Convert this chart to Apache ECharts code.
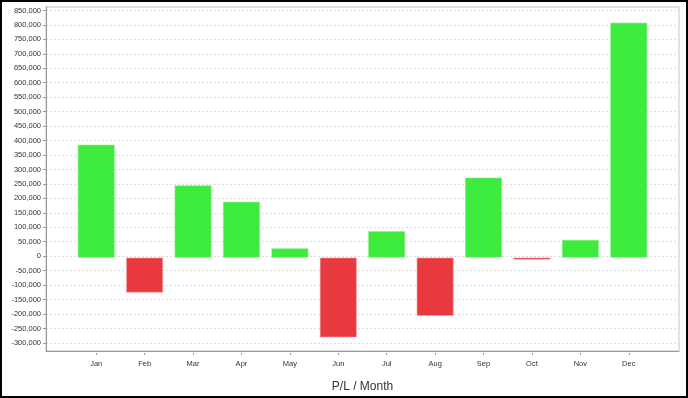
<!DOCTYPE html>
<html><head><meta charset="utf-8">
<script src="https://cdn.jsdelivr.net/npm/echarts@6/dist/echarts.min.js"></script>
<style>
html,body{margin:0;padding:0;background:#fff}
#c{position:absolute;left:0;top:0;width:688px;height:398px}
#frame{position:absolute;left:0;top:0;width:688px;height:398px;box-sizing:border-box;border:2px solid #000;pointer-events:none}
</style>
</head><body><div id="c"></div><div id="frame"></div>
<script>
const months = ['Jan','Feb','Mar','Apr','May','Jun','Jul','Aug','Sep','Oct','Nov','Dec'];
const plValues = [388000,-120000,248000,192000,32000,-274000,91000,-200000,275000,-7000,61000,808000];
const yMin = -328000;
const yMax = 862000;
const axisTitle = 'P/L / Month';

const GREEN = '#3deb3d', RED = '#e8393e';
const chart = echarts.init(document.getElementById('c'), null, {renderer:'canvas'});
const labelFont = {fontFamily:'Liberation Sans, Arial, sans-serif', fontSize:7.5, color:'#333'};
chart.setOption({
  animation:false,
  backgroundColor:'#fff',
  grid:[
    {left:72, right:35, top:7, bottom:45},
    {left:46, right:9, top:7, bottom:45, show:true, borderColor:'#c4c4c4', borderWidth:1, backgroundColor:'transparent'}
  ],
  xAxis:[
    {type:'category', gridIndex:0, data:months, boundaryGap:true, position:'bottom',
     axisLine:{show:false, onZero:false},
     axisTick:{show:true, alignWithLabel:true, length:2, lineStyle:{color:'#999'}},
     axisLabel:Object.assign({margin:7, interval:0}, labelFont),
     splitLine:{show:false}},
    {type:'category', gridIndex:1, data:months, position:'bottom',
     axisLine:{show:true, onZero:false, lineStyle:{color:'#999'}},
     axisTick:{show:false}, axisLabel:{show:false}, splitLine:{show:false},
     name:axisTitle, nameLocation:'middle', nameGap:30,
     nameTextStyle:{fontFamily:'Liberation Sans, Arial, sans-serif', fontSize:12, color:'#333'}}
  ],
  yAxis:[
    {type:'value', gridIndex:1, min:yMin, max:yMax, splitNumber:24,
     axisLine:{show:true, lineStyle:{color:'#999'}},
     axisTick:{show:true, length:3, lineStyle:{color:'#999'}},
     axisLabel:Object.assign({margin:5, showMinLabel:false, showMaxLabel:false,
       formatter:v=>v.toLocaleString('en-US')}, labelFont),
     splitLine:{show:true, lineStyle:{color:'#dcdcdc', type:[2,2], width:1}}},
    {type:'value', gridIndex:0, min:yMin, max:yMax, splitNumber:24, show:false, splitLine:{show:false}}
  ],
  series:[{
    type:'bar', xAxisIndex:0, yAxisIndex:1, barWidth:'76%',
    data:plValues.map(v=>({value:v, itemStyle:{color: v>=0?GREEN:RED,
      borderColor: v>=0?'#86ee86':'#f0a0a2', borderWidth:0.6}}))
  }]
});
</script></body></html>
